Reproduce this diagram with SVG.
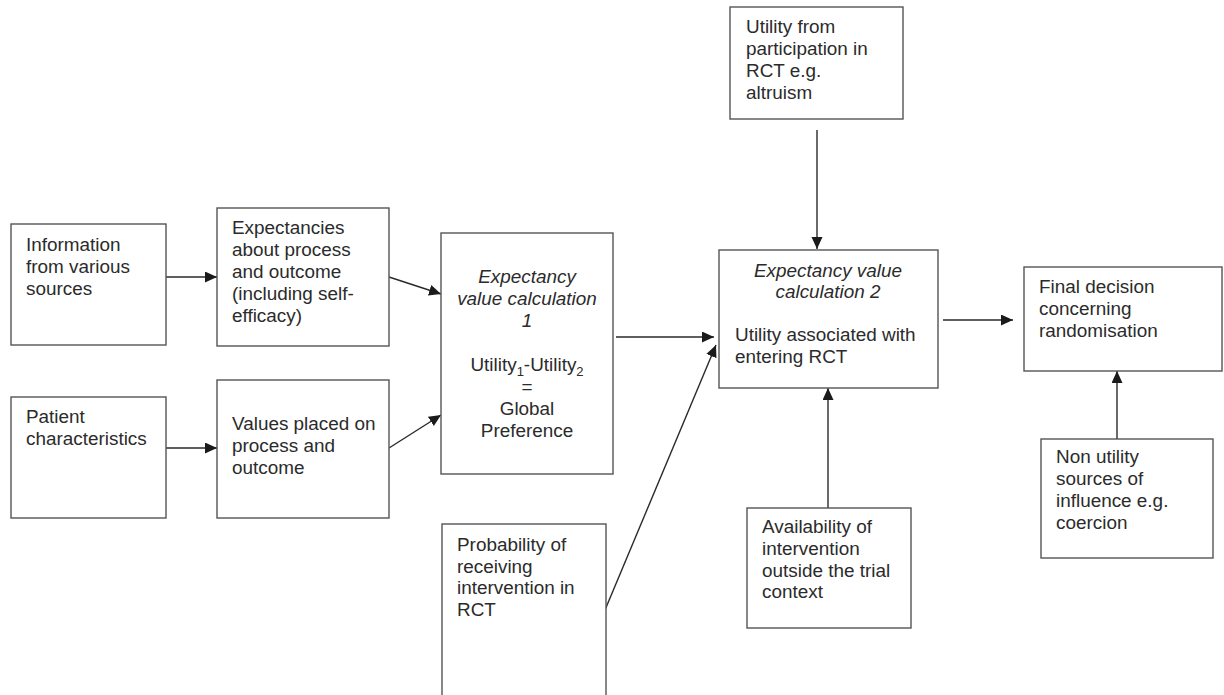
<svg xmlns="http://www.w3.org/2000/svg" width="1224" height="695" viewBox="0 0 1224 695">
  <style>
    .box { fill: #ffffff; stroke: #555555; stroke-width: 1.4; }
    .lbl { font-family: "Liberation Sans", Arial, sans-serif; font-size: 18.9px; fill: #2b2b2b; }
    .it { font-style: italic; }
    .mid { text-anchor: middle; }
    .edge { fill: none; stroke: #2a2a2a; stroke-width: 1.4; marker-end: url(#head); }
  </style>
  <defs>
    <marker id="head" markerUnits="userSpaceOnUse" markerWidth="14" markerHeight="12" refX="12" refY="5.5" orient="auto">
      <path d="M0,0 L12,5.5 L0,11 Z" fill="#1a1a1a"/>
    </marker>
  </defs>
  <rect width="1224" height="695" fill="#ffffff"/>

  <g id="connectors">
    <line class="edge" x1="166" y1="277" x2="217" y2="277"/>
    <line class="edge" x1="166" y1="448" x2="217" y2="448"/>
    <line class="edge" x1="389" y1="277" x2="441" y2="294"/>
    <line class="edge" x1="389" y1="448" x2="441" y2="415"/>
    <line class="edge" x1="616" y1="337" x2="714" y2="337"/>
    <line class="edge" x1="605" y1="610" x2="716" y2="345"/>
    <line class="edge" x1="817" y1="130" x2="817" y2="249"/>
    <line class="edge" x1="828" y1="508" x2="828" y2="388"/>
    <line class="edge" x1="943" y1="320" x2="1013" y2="320"/>
    <line class="edge" x1="1117" y1="439" x2="1117" y2="371"/>
  </g>

  <g id="information">
    <rect class="box" x="11" y="224" width="155" height="121"/>
    <text class="lbl" x="26" y="251">Information</text>
    <text class="lbl" x="26" y="273">from various</text>
    <text class="lbl" x="26" y="295">sources</text>
  </g>

  <g id="patient">
    <rect class="box" x="11" y="397" width="155" height="121"/>
    <text class="lbl" x="26" y="423">Patient</text>
    <text class="lbl" x="26" y="445">characteristics</text>
  </g>

  <g id="expectancies">
    <rect class="box" x="217" y="208" width="172" height="138"/>
    <text class="lbl" x="232" y="234">Expectancies</text>
    <text class="lbl" x="232" y="256">about process</text>
    <text class="lbl" x="232" y="278">and outcome</text>
    <text class="lbl" x="232" y="300">(including self-</text>
    <text class="lbl" x="232" y="322">efficacy)</text>
  </g>

  <g id="values">
    <rect class="box" x="217" y="380" width="172" height="138"/>
    <text class="lbl" x="232" y="430">Values placed on</text>
    <text class="lbl" x="232" y="452">process and</text>
    <text class="lbl" x="232" y="474">outcome</text>
  </g>

  <g id="calc1">
    <rect class="box" x="441" y="233" width="172" height="241"/>
    <text class="lbl it mid" x="527" y="283">Expectancy</text>
    <text class="lbl it mid" x="527" y="305">value calculation</text>
    <text class="lbl it mid" x="527" y="327">1</text>
    <text class="lbl mid" x="527" y="371">Utility<tspan font-size="13" dy="5">1</tspan><tspan dy="-5">-Utility</tspan><tspan font-size="13" dy="5">2</tspan></text>
    <text class="lbl mid" x="527" y="393">=</text>
    <text class="lbl mid" x="527" y="415">Global</text>
    <text class="lbl mid" x="527" y="437">Preference</text>
  </g>

  <g id="probability">
    <rect class="box" x="442" y="524" width="164" height="180"/>
    <text class="lbl" x="457" y="551">Probability of</text>
    <text class="lbl" x="457" y="573">receiving</text>
    <text class="lbl" x="457" y="594">intervention in</text>
    <text class="lbl" x="457" y="616">RCT</text>
  </g>

  <g id="participation">
    <rect class="box" x="730" y="7" width="173" height="112"/>
    <text class="lbl" x="746" y="33">Utility from</text>
    <text class="lbl" x="746" y="55">participation in</text>
    <text class="lbl" x="746" y="77">RCT e.g.</text>
    <text class="lbl" x="746" y="99">altruism</text>
  </g>

  <g id="calc2">
    <rect class="box" x="719" y="250" width="219" height="138"/>
    <text class="lbl it mid" x="828" y="277">Expectancy value</text>
    <text class="lbl it mid" x="828" y="298">calculation 2</text>
    <text class="lbl" x="735" y="341">Utility associated with</text>
    <text class="lbl" x="735" y="363">entering RCT</text>
  </g>

  <g id="availability">
    <rect class="box" x="747" y="508" width="164" height="120"/>
    <text class="lbl" x="762" y="533">Availability of</text>
    <text class="lbl" x="762" y="555">intervention</text>
    <text class="lbl" x="762" y="577">outside the trial</text>
    <text class="lbl" x="762" y="598">context</text>
  </g>

  <g id="decision">
    <rect class="box" x="1024" y="267" width="198" height="104"/>
    <text class="lbl" x="1039" y="293">Final decision</text>
    <text class="lbl" x="1039" y="315">concerning</text>
    <text class="lbl" x="1039" y="337">randomisation</text>
  </g>

  <g id="non-utility">
    <rect class="box" x="1041" y="439" width="172" height="119"/>
    <text class="lbl" x="1056" y="463">Non utility</text>
    <text class="lbl" x="1056" y="485">sources of</text>
    <text class="lbl" x="1056" y="507">influence e.g.</text>
    <text class="lbl" x="1056" y="529">coercion</text>
  </g>
</svg>
